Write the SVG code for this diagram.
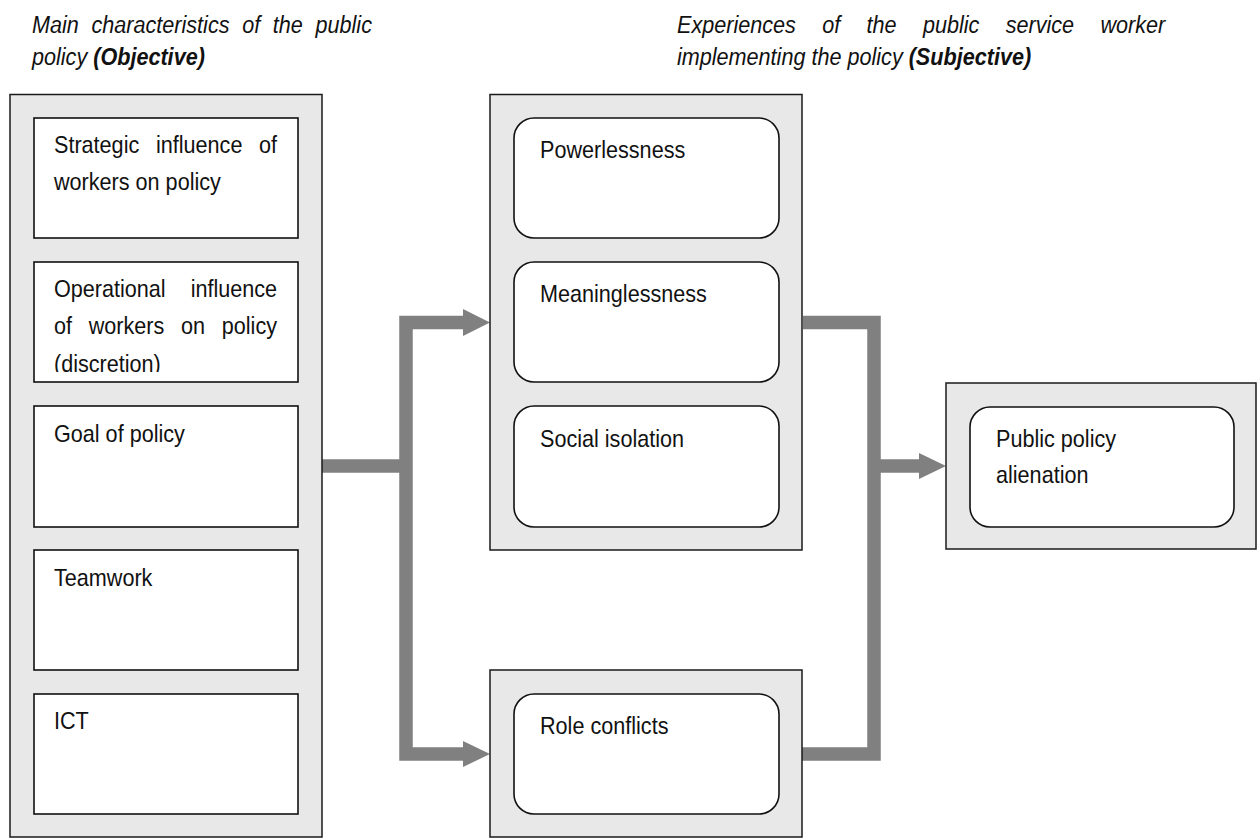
<svg xmlns="http://www.w3.org/2000/svg" width="1258" height="838" viewBox="0 0 1258 838">
<style>
.outer{fill:#e8e8e8;stroke:#1a1a1a;stroke-width:1.5}
.inner{fill:#fff;stroke:#111;stroke-width:1.6}
.t{font-family:"Liberation Sans",Arial,sans-serif;font-size:24px;fill:#111}
.ti{font-style:italic}
.b{font-weight:bold}
.conn{fill:none;stroke:#808080;stroke-width:13.5;stroke-linejoin:miter;stroke-linecap:butt}
.head{fill:#808080}
</style>
<defs>
<clipPath id="clipDisc"><rect x="34" y="262" width="264" height="110"/></clipPath>
</defs>
<rect width="1258" height="838" fill="#fff"/>
<g id="titles">
<text class="t ti" transform="translate(32,33) scale(0.9,1)" style="word-spacing:7.4px">Main characteristics of the public</text>
<text class="t ti" transform="translate(32,65) scale(0.9,1)">policy <tspan class="b">(Objective)</tspan></text>
<text class="t ti" transform="translate(677,33) scale(0.9,1)" style="word-spacing:22.6px">Experiences of the public service worker</text>
<text class="t ti" transform="translate(677,65) scale(0.9,1)">implementing the policy <tspan class="b">(Subjective)</tspan></text>
</g>
<g id="connectors">
<path class="conn" d="M322 466 H412"/>
<path class="conn" d="M464 322.5 H406 V754 H464"/>
<polygon class="head" points="463,309 490,322.5 463,336"/>
<polygon class="head" points="463,741 490,754 463,767"/>
<path class="conn" d="M803 322.5 H874 V754 H802"/>
<path class="conn" d="M874 466 H920"/>
<polygon class="head" points="919,453 946,466 919,479"/>
</g>
<g id="objective">
<rect class="outer" x="10" y="94.5" width="312" height="742.5"/>
<g id="strategic">
<rect class="inner" x="34" y="118" width="264" height="120"/>
<text class="t" transform="translate(54,153) scale(0.9,1)" style="word-spacing:11.9px">Strategic influence of</text>
<text class="t" transform="translate(54,190) scale(0.9,1)">workers on policy</text>
</g>
<g id="operational">
<rect class="inner" x="34" y="262" width="264" height="120"/>
<g clip-path="url(#clipDisc)">
<text class="t" transform="translate(54,297) scale(0.9,1)" style="word-spacing:21.1px">Operational influence</text>
<text class="t" transform="translate(54,334) scale(0.9,1)" style="word-spacing:11.9px">of workers on policy</text>
<text class="t" transform="translate(54,372) scale(0.9,1)">(discretion)</text>
</g>
</g>
<g id="goal">
<rect class="inner" x="34" y="406" width="264" height="121"/>
<text class="t" transform="translate(54,442) scale(0.9,1)">Goal of policy</text>
</g>
<g id="teamwork">
<rect class="inner" x="34" y="550" width="264" height="120"/>
<text class="t" transform="translate(54,586) scale(0.9,1)">Teamwork</text>
</g>
<g id="ict">
<rect class="inner" x="34" y="694" width="264" height="120"/>
<text class="t" transform="translate(54,729) scale(0.9,1)">ICT</text>
</g>
</g>
<g id="subjective">
<rect class="outer" x="490" y="94.5" width="312" height="455.5"/>
<g id="powerlessness">
<rect class="inner" x="514" y="118" width="265" height="120" rx="20"/>
<text class="t" transform="translate(540,158) scale(0.9,1)">Powerlessness</text>
</g>
<g id="meaninglessness">
<rect class="inner" x="514" y="262" width="265" height="120" rx="20"/>
<text class="t" transform="translate(540,302) scale(0.9,1)">Meaninglessness</text>
</g>
<g id="isolation">
<rect class="inner" x="514" y="406" width="265" height="121" rx="20"/>
<text class="t" transform="translate(540,447) scale(0.9,1)">Social isolation</text>
</g>
</g>
<g id="role">
<rect class="outer" x="490" y="670" width="312" height="167"/>
<rect class="inner" x="514" y="694" width="265" height="120" rx="20"/>
<text class="t" transform="translate(540,734) scale(0.9,1)">Role conflicts</text>
</g>
<g id="alienation">
<rect class="outer" x="946" y="383" width="310" height="166"/>
<rect class="inner" x="970" y="407" width="264" height="120" rx="20"/>
<text class="t" transform="translate(996,447) scale(0.9,1)">Public policy</text>
<text class="t" transform="translate(996,483) scale(0.9,1)">alienation</text>
</g>
</svg>
